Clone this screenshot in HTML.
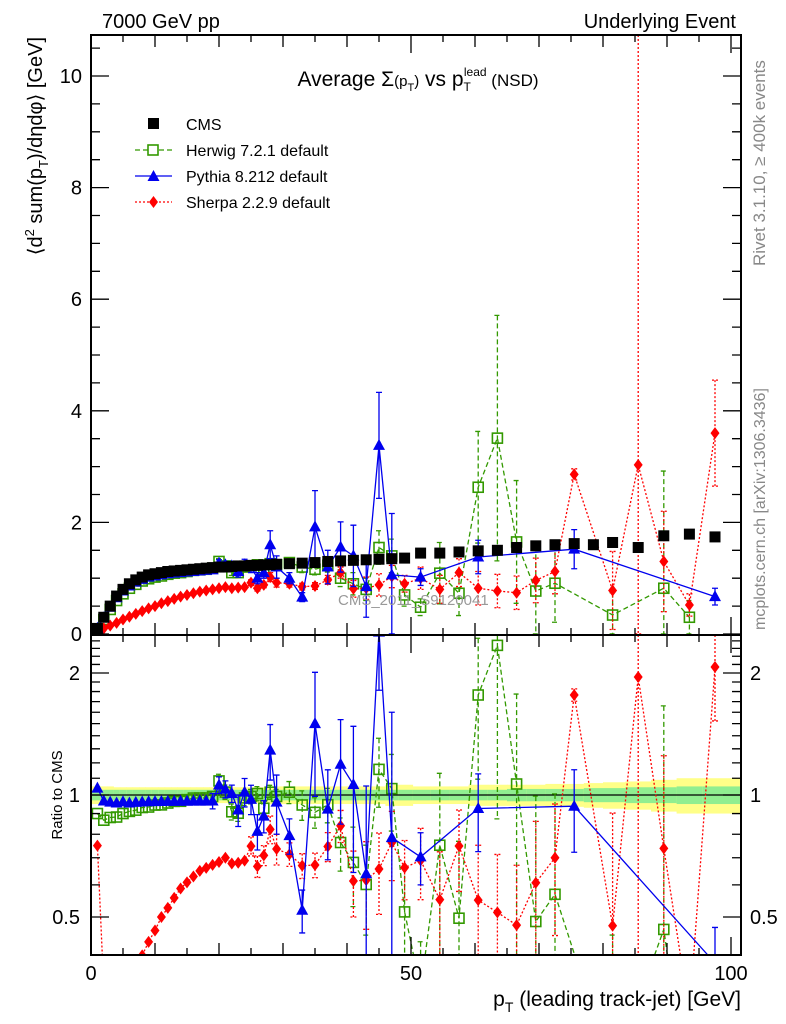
<!DOCTYPE html>
<html><head><meta charset="utf-8"><style>
html,body{margin:0;padding:0;background:#fff;overflow:hidden;width:786px;height:1024px;}
svg{display:block;font-family:"Liberation Sans",sans-serif;}
</style></head><body>
<svg id="c" width="786" height="1024" viewBox="0 0 786 1024" xmlns="http://www.w3.org/2000/svg">
<defs>
<clipPath id="cm"><rect x="91" y="35" width="650" height="600"/></clipPath>
<clipPath id="cr"><rect x="91" y="635" width="650" height="320"/></clipPath>
</defs>
<g id="bands" clip-path="url(#cr)"></g>
<g id="marks"></g>
<g id="axes"></g>
<text x="102" y="28" font-size="20">7000 GeV pp</text>
<text x="736" y="28" font-size="20" text-anchor="end">Underlying Event</text>
<text x="418" y="86" font-size="21" text-anchor="middle">Average Σ<tspan font-size="15">(p</tspan><tspan font-size="11" dy="5">T</tspan><tspan font-size="15" dy="-5">)</tspan> vs p<tspan font-size="12" dy="5">T</tspan><tspan font-size="12" dx="-7" dy="-15">lead</tspan><tspan font-size="17" dy="10"> (NSD)</tspan></text>
<text x="338" y="605" font-size="15" fill="#999">CMS_2011_S9120041</text>
<text transform="translate(765,266) rotate(-90)" font-size="17" fill="#888">Rivet 3.1.10, ≥ 400k events</text>
<text transform="translate(765,630) rotate(-90)" font-size="16" fill="#888">mcplots.cern.ch [arXiv:1306.3436]</text>
<text transform="translate(42,37) rotate(-90)" font-size="20" text-anchor="end">⟨d<tspan font-size="13" dy="-8">2</tspan><tspan dy="8"> sum(p</tspan><tspan font-size="13" dy="6">T</tspan><tspan dy="-6">)/dηdφ⟩ [GeV]</tspan></text>
<text transform="translate(62,795) rotate(-90)" font-size="15" text-anchor="middle">Ratio to CMS</text>
<text x="741" y="1006" font-size="21" text-anchor="end">p<tspan font-size="14" dy="6">T</tspan><tspan dy="-6"> (leading track-jet) [GeV]</tspan></text>
<g id="legend">
<rect x="148" y="118" width="11" height="11" fill="#000"/>
<text x="186" y="130" font-size="16">CMS</text>
<line x1="135" y1="150" x2="172" y2="150" stroke="#339900" stroke-width="1.3" stroke-dasharray="5,3"/>
<rect x="148" y="145" width="10" height="10" fill="#fff" stroke="#339900" stroke-width="1.6"/>
<text x="186" y="156" font-size="16">Herwig 7.2.1 default</text>
<line x1="135" y1="176" x2="172" y2="176" stroke="#0000ee" stroke-width="1.3"/>
<path d="M153.5,170 L159.5,181 L147.5,181Z" fill="#0000ee"/>
<text x="186" y="182" font-size="16">Pythia 8.212 default</text>
<line x1="135" y1="202" x2="172" y2="202" stroke="#ff0000" stroke-width="1.3" stroke-dasharray="2,2"/>
<path d="M153.5,196 L158,202 L153.5,208 L149,202Z" fill="#ff0000"/>
<text x="186" y="208" font-size="16">Sherpa 2.2.9 default</text>
</g>
</svg>
<script>
const xVals=[1,2,3,4,5,6,7,8,9,10,11,12,13,14,15,16,17,18,19,20,21,22,23,24,25,26,27,28,29,
31,33,35,37,39,41,43,45,47,49,
51.5,54.5,57.5,60.5,63.5,66.5,69.5,72.5,75.5,78.5,81.5,85.5,89.5,93.5,97.5];
const cmsVals=[0.1,0.3,0.5,0.68,0.8,0.9,0.97,1.02,1.06,1.08,1.1,1.12,1.13,1.14,1.15,1.16,1.17,1.18,1.19,1.2,1.2,1.21,1.22,1.22,1.23,1.23,1.24,1.24,1.25,
1.26,1.27,1.28,1.3,1.31,1.32,1.33,1.34,1.35,1.36,
1.45,1.45,1.47,1.49,1.5,1.55,1.58,1.6,1.62,1.6,1.64,1.55,1.76,1.79,1.74];
const statRel=[0.03,0.03,0.03,0.03,0.03,0.03,0.03,0.03,0.03,0.03,0.03,0.03,0.03,0.03,0.03,0.03,0.03,0.03,0.03,0.03,0.03,0.03,0.03,0.03,0.03,0.03,0.03,0.03,0.03,
0.03,0.03,0.03,0.03,0.03,0.03,0.03,0.03,0.03,0.03,
0.03,0.03,0.03,0.03,0.03,0.035,0.035,0.035,0.035,0.04,0.04,0.045,0.045,0.05,0.05];
const totRel=[0.05,0.05,0.05,0.045,0.045,0.045,0.045,0.045,0.045,0.045,0.045,0.045,0.045,0.045,0.045,0.045,0.045,0.045,0.045,0.045,0.045,0.045,0.045,0.045,0.045,0.045,0.045,0.05,0.05,
0.05,0.05,0.05,0.05,0.05,0.05,0.05,0.05,0.06,0.06,
0.05,0.05,0.05,0.06,0.06,0.06,0.06,0.065,0.065,0.07,0.075,0.08,0.09,0.1,0.1];
const herwigVals=[0.09,0.26,0.44,0.6,0.72,0.82,0.89,0.95,0.99,1.02,1.04,1.07,1.09,1.1,1.12,1.14,1.15,1.16,1.18,1.3,1.22,1.1,1.1,1.2,1.22,1.24,1.15,1.26,1.24,
1.28,1.2,1.16,1.23,1.0,0.9,0.8,1.55,1.4,0.7,
0.48,1.09,0.73,2.63,3.51,1.65,0.77,0.91,null,null,0.34,null,0.82,0.3,null];
const herwigErr=[0,0,0,0,0,0,0,0,0,0,0,0,0,0,0,0,0,0,0,0.05,0.05,0.05,0.05,0.05,0.05,0.05,0.05,0.05,0.05,
0.08,0.1,0.1,0.12,0.15,0.2,0.2,0.3,0.3,0.2,
0.15,0.55,0.4,1.0,2.2,1.1,0.8,0.7,0,0,0.4,0,2.1,0.3,0];
const pythiaVals=[0.104,0.29,0.48,0.65,0.77,0.86,0.93,0.98,1.02,1.04,1.06,1.08,1.09,1.1,1.11,1.12,1.13,1.14,1.15,1.27,1.24,1.22,1.12,1.24,1.2,1.0,1.1,1.6,1.2,
1.0,0.66,1.92,1.2,1.56,1.4,0.85,3.38,1.06,null,
1.02,null,null,1.38,null,null,null,null,1.52,null,null,null,null,null,0.67];
const pythiaErr=[0,0,0,0,0,0,0,0,0,0,0,0,0,0,0,0,0,0,0.05,0.06,0.06,0.06,0.1,0.1,0.1,0.1,0.1,0.25,0.2,
0.1,0.08,0.65,0.3,0.45,0.55,0.55,0.95,1.1,0,
0.15,0,0,0.3,0,0,0,0,0.35,0,0,0,0,0,0.15];
const sherpaVals=[0.075,0.1,0.15,0.2,0.26,0.31,0.36,0.41,0.46,0.5,0.55,0.59,0.63,0.67,0.7,0.73,0.76,0.78,0.8,0.82,0.84,0.82,0.83,0.84,0.92,0.82,0.88,1.02,0.92,
0.9,0.85,0.86,0.97,1.1,0.81,0.82,0.88,1.03,0.9,
1.0,0.8,1.1,0.82,0.77,0.74,0.96,1.12,2.86,null,0.78,3.03,1.3,0.52,3.6];
const sherpaErr=[0,0,0,0,0,0,0,0,0,0,0,0,0,0,0,0,0,0,0,0,0,0,0,0,0.05,0.05,0.05,0.08,0.08,
0.06,0.06,0.06,0.08,0.1,0.15,0.2,0.2,0.2,0.15,
0.2,0.25,0.25,0.3,0.3,0.3,0.4,0.4,0.1,0,0.7,10,0.9,0.2,0.95];
const xTickLabels=["0","50","100"];
const yTickLabels=["0","2","4","6","8","10"];
const rTickLabels=["0.5","1","2"];

const NS="http://www.w3.org/2000/svg";
const X0=91,X1=741,XMAX=101.5625;
const MT=35,MB=635,YMAX=(634-35)/55.8;
const RT=635,RB=955;
function sx(x){return X0+x*(X1-X0)/XMAX;}
function sy(v){return 634-v*55.8;}
function sr(r){return 795-Math.log2(Math.max(r,1e-3))*122;}
function lims(panel){return panel==='main'?[MT,MB]:[RT,RB];}
function clampY(y,panel){const [t,b]=lims(panel);return Math.min(Math.max(y,t),b);}
function clipSeg(x1,y1,x2,y2,t,b){
  // clip segment to t<=y<=b, return null or [x1,y1,x2,y2]
  if((y1<t&&y2<t)||(y1>b&&y2>b))return null;
  const f=(ya,yb,xa,xb,yc)=>xa+(xb-xa)*(yc-ya)/(yb-ya);
  let a=[x1,y1],c=[x2,y2];
  if(a[1]<t){a=[f(y1,y2,x1,x2,t),t];} else if(a[1]>b){a=[f(y1,y2,x1,x2,b),b];}
  if(c[1]<t){c=[f(y1,y2,x1,x2,t),t];} else if(c[1]>b){c=[f(y1,y2,x1,x2,b),b];}
  return [a[0],a[1],c[0],c[1]];
}
function mk(tag,attrs,parent){const e=document.createElementNS(NS,tag);for(const k in attrs)e.setAttribute(k,attrs[k]);parent.appendChild(e);return e;}
const svg=document.getElementById('c');
const marks=document.getElementById('marks');
const axes=document.getElementById('axes');
const bands=document.getElementById('bands');

for(let i=0;i<xVals.length;i++){
  const xl=i===0?0:(xVals[i-1]+xVals[i])/2;
  const xr=i===xVals.length-1?XMAX:(xVals[i]+xVals[i+1])/2;
  const y=mk('rect',{x:sx(xl),y:sr(1+totRel[i]),width:sx(xr)-sx(xl)+0.5,height:sr(1-totRel[i])-sr(1+totRel[i]),fill:'#ffff88'},bands);
  
  
  const g=mk('rect',{x:sx(xl),y:sr(1+statRel[i]),width:sx(xr)-sx(xl)+0.5,height:sr(1-statRel[i])-sr(1+statRel[i]),fill:'#90ee90'},bands);
  
  
}
const one=mk('line',{x1:X0,x2:X1,y1:sr(1),y2:sr(1),stroke:'#000','stroke-width':1.2},bands);



function marker(type,cx,cy,col,parent){
  let e;
  if(type==='sq') e=mk('rect',{x:cx-5.5,y:cy-5.5,width:11,height:11,fill:'#000'},parent);
  else if(type==='osq') e=mk('rect',{x:cx-5,y:cy-5,width:10,height:10,fill:'none',stroke:col,'stroke-width':1.6},parent);
  else if(type==='tri') e=mk('path',{d:`M${cx},${cy-6.5} L${cx+6},${cy+4.5} L${cx-6},${cy+4.5}Z`,fill:col},parent);
  else e=mk('path',{d:`M${cx},${cy-6} L${cx+4.5},${cy} L${cx},${cy+6} L${cx-4.5},${cy}Z`,fill:col},parent);
  return e;
}
function series(name,vals,errs,col,dash,type){
  ['main','ratio'].forEach(panel=>{
    const [T,B]=lims(panel);
    const g=mk('g',{'clip-path':panel==='main'?'url(#cm)':'url(#cr)'},marks);
    
    
    const Y=(v,i)=>panel==='main'?sy(v):sr(v/cmsVals[i]);
    const pts=[];
    vals.forEach((v,i)=>{if(v!=null)pts.push([sx(xVals[i]),Y(v,i)]);});
    let d='',last=null;
    for(let k=0;k+1<pts.length;k++){
      const s=clipSeg(pts[k][0],pts[k][1],pts[k+1][0],pts[k+1][1],T,B);
      if(!s){last=null;continue;}
      const a=s[0].toFixed(1)+','+s[1].toFixed(1);
      if(last!==a)d+='M'+a;
      last=s[2].toFixed(1)+','+s[3].toFixed(1);
      d+='L'+last;
    }
    const ln=mk('path',{d:d||'M0,0',fill:'none',stroke:col,'stroke-width':1.3},g);
    if(dash)ln.setAttribute('stroke-dasharray',dash);
    
    
    vals.forEach((v,i)=>{
      if(v==null)return;
      const cx=sx(xVals[i]);
      const cy=Y(v,i);
      if(errs&&errs[i]>0){
        const y1=clampY(Y(v+errs[i],i),panel),y2=clampY(Y(Math.max(v-errs[i],0.001),i),panel);
        if(y2>y1){
          const eb=mk('path',{d:`M${cx},${y1}L${cx},${y2}M${cx-3},${y1}L${cx+3},${y1}M${cx-3},${y2}L${cx+3},${y2}`,stroke:col,'stroke-width':1.3,fill:'none'},g);
          if(dash)eb.setAttribute('stroke-dasharray',dash);
          
          
        }
      }
      if(cy<T-6||cy>B+6)return;
      const m=marker(type,cx,cy,col,g);
      
      
    });
  });
}
series('herwig',herwigVals,herwigErr,'#339900','5,3','osq');
series('sherpa',sherpaVals,sherpaErr,'#ff0000','2,2','dia');
series('pythia',pythiaVals,pythiaErr,'#0000ee',null,'tri');
{
  const g=mk('g',{'clip-path':'url(#cm)'},marks);
  
  
  cmsVals.forEach((v,i)=>{
    const m=marker('sq',sx(xVals[i]),sy(v),'#000',g);
    
    
  });
}
[[MT,MB],[RT,RB]].forEach(([t,b],k)=>{
  const r=mk('rect',{x:X0,y:t,width:X1-X0,height:b-t,fill:'none',stroke:'#000','stroke-width':2},axes);
  
  
});
for(let x=0;x<=XMAX;x+=5){
  const L=x%50===0?18:(x%10===0?12:7);
  [[MT,MB],[RT,RB]].forEach(([t,b])=>{
    const p=mk('path',{d:`M${sx(x)},${b}L${sx(x)},${b-L}M${sx(x)},${t}L${sx(x)},${t+L}`,stroke:'#000','stroke-width':1.3},axes);
    
    
  });
}
xTickLabels.forEach(s=>{
  const t=mk('text',{x:sx(+s),y:980,'font-size':20,'text-anchor':'middle'},axes);
  t.textContent=s;
  
  
});
for(let v=0;v<=YMAX;v+=0.5){
  const L=v%2===0?18:9;
  const p=mk('path',{d:`M${X0},${sy(v)}L${X0+L},${sy(v)}M${X1},${sy(v)}L${X1-L},${sy(v)}`,stroke:'#000','stroke-width':1.3},axes);
  
  
}
yTickLabels.forEach(s=>{
  const t=mk('text',{x:82,y:sy(+s)+7,'font-size':20,'text-anchor':'end'},axes);
  t.textContent=s;
  
  
});
[0.4,0.5,0.6,0.7,0.8,0.9,1,1.1,1.2,1.3,1.4,1.5,1.6,1.7,1.8,1.9,2,2.1,2.2,2.3,2.4].forEach(r=>{
  const y=sr(r);if(y<RT||y>RB)return;
  const L=(r===0.5||r===1||r===2)?18:9;
  const p=mk('path',{d:`M${X0},${y}L${X0+L},${y}M${X1},${y}L${X1-L},${y}`,stroke:'#000','stroke-width':1.3},axes);
  
  
});
rTickLabels.forEach(s=>{
  const y=sr(+s)+7;
  const t=mk('text',{x:80,y:y,'font-size':20,'text-anchor':'end'},axes);
  t.textContent=s;
  
  
  const t2=mk('text',{x:750,y:y,'font-size':20},axes);
  t2.textContent=s;
  
  
});
</script>
</body></html>
